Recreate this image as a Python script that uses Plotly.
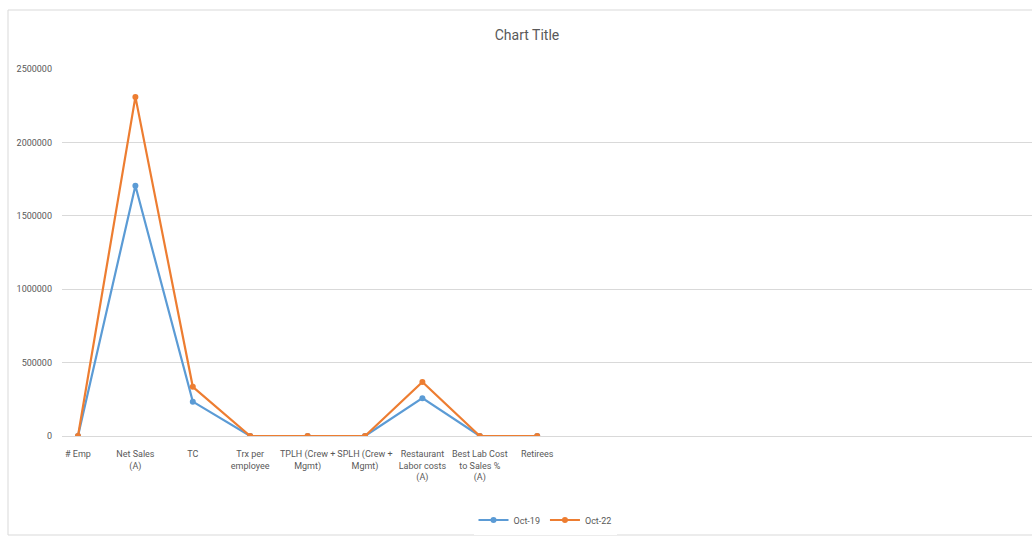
import plotly.graph_objects as go

categories = ["# Emp", "Net Sales<br>(A)", "TC", "Trx per<br>employee", "TPLH (Crew +<br>Mgmt)",
              "SPLH (Crew +<br>Mgmt)", "Restaurant<br>Labor costs<br>(A)", "Best Lab Cost<br>to Sales %<br>(A)", "Retirees"]
oct19 = [0, 1705000, 234000, 0, 0, 0, 258000, 0, 0]
oct22 = [0, 2310000, 335000, 0, 0, 0, 368000, 0, 0]
series_names = ["Oct-19", "Oct-22"]
y_ticks = [0, 500000, 1000000, 1500000, 2000000, 2500000]

BLUE = "#5B9BD5"
ORANGE = "#ED7D31"
GRID = "#D9D9D9"
TEXT = "#595959"
FONT = "Roboto, sans-serif"

W, H = 1032, 537
L, R, T, B = 62, 0, 69, 101
pw, ph = W - L - R, H - T - B

def px_x(px):
    return (px - L) / pw

def px_y(py):
    return (H - B - py) / ph

x_idx = list(range(len(categories)))
spacing = 57.4

fig = go.Figure()
for name, vals, col in [(series_names[0], oct19, BLUE), (series_names[1], oct22, ORANGE)]:
    fig.add_trace(go.Scatter(
        x=x_idx, y=vals, name=name, mode="lines+markers",
        line=dict(color=col, width=2.2),
        marker=dict(color=col, size=6, symbol="circle"),
    ))

fig.update_layout(
    width=W, height=H,
    margin=dict(l=L, r=R, t=T, b=B),
    paper_bgcolor="white", plot_bgcolor="white",
    font=dict(family=FONT, color=TEXT, size=10),
    title=dict(text="Chart Title", x=527 / W, xanchor="center",
               y=1 - 35 / H, yanchor="middle",
               font=dict(size=14, color=TEXT, family=FONT)),
    showlegend=True,
    legend=dict(orientation="h", x=545 / W, xref="container", xanchor="center",
                y=1 - 520 / H, yref="container", yanchor="middle",
                font=dict(size=9, color=TEXT), itemwidth=30, tracegroupgap=0),
    xaxis=dict(
        range=[-(78 - L) / spacing, (W - 78) / spacing],
        tickmode="array", tickvals=x_idx, ticktext=categories,
        tickangle=0,
        showgrid=False, zeroline=False, showline=False, ticks="",
        ticklabelstandoff=11,
        tickfont=dict(size=9, color=TEXT),
    ),
    yaxis=dict(
        range=[0, 2500000], tickmode="array", tickvals=y_ticks,
        ticktext=[str(v) for v in y_ticks],
        showgrid=True, gridcolor=GRID, gridwidth=1,
        zeroline=True, zerolinecolor=GRID, zerolinewidth=1,
        showline=False, ticks="", ticklabelstandoff=9,
        tickfont=dict(size=9, color=TEXT),
    ),
    shapes=[dict(type="rect", xref="paper", yref="paper",
                 x0=px_x(8), x1=px_x(1040), y0=px_y(535), y1=px_y(10),
                 line=dict(color=GRID, width=1), fillcolor="rgba(0,0,0,0)", layer="below")],
)

fig.write_html("out.html")
